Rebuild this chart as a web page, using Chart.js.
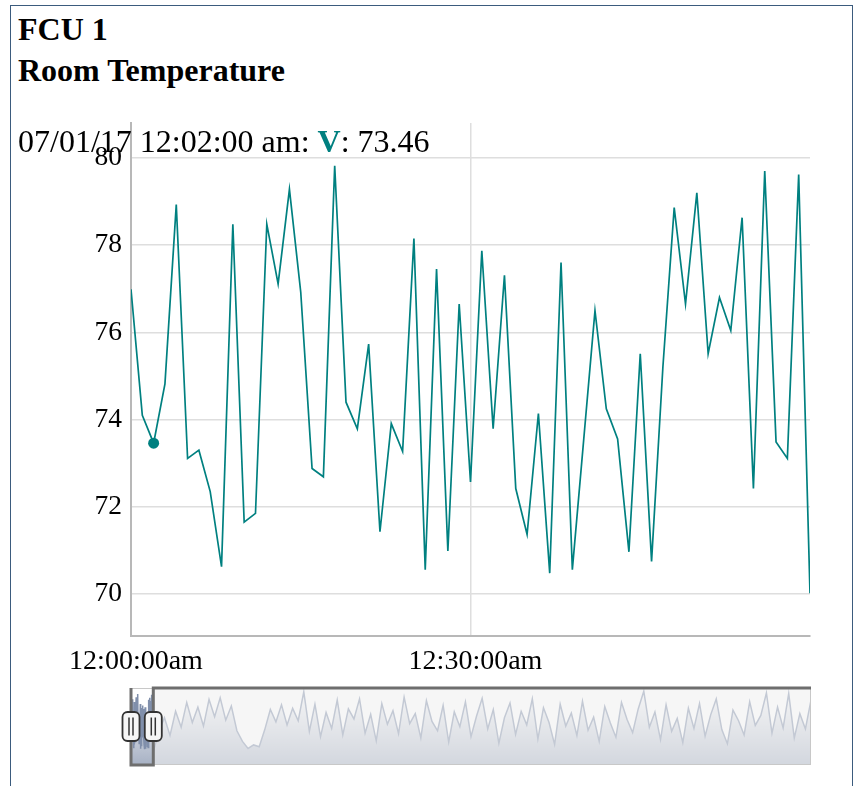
<!DOCTYPE html>
<html>
<head>
<meta charset="utf-8">
<script src="https://cdn.jsdelivr.net/npm/chart.js@4.4.1/dist/chart.umd.min.js"></script>
<style>
  body { margin: 0; background: #fff; font-family: 'Liberation Serif', 'Times New Roman', serif; }
  #page { position: relative; width: 863px; height: 786px; overflow: hidden; }
  #frame { position: absolute; left: 10px; top: 5px; width: 841px; height: 830px; border: 1.5px solid #3b5b7d; }
  .head { position: absolute; left: 18px; font-weight: bold; font-size: 32px; line-height: 32px; color: #000; white-space: nowrap; }
  #legend { position: absolute; left: 18px; top: 125px; font-size: 32px; line-height: 32px; color: #000; white-space: nowrap; z-index: 2; }
  #legend b { color: #008080; }
  #mainChart { position: absolute; left: 0; top: 0; }
  #rangeChart { position: absolute; left: 111px; top: 684px; }
</style>
</head>
<body>
<div id="page">
  <div id="frame"></div>
  <div class="head" style="top:13px">FCU 1</div>
  <div class="head" style="top:54px">Room Temperature</div>
  <canvas id="mainChart" width="863" height="690"></canvas>
  <div id="legend"></div>
  <canvas id="rangeChart" width="710" height="84"></canvas>
</div>
<script>
    const fontFamily = "'Liberation Serif', 'Times New Roman', serif";

    // one reading per minute, starting 12:00:00am
    const roomTemp = [
        76.99, 74.10, 73.46, 74.82, 78.93, 73.11, 73.30, 72.35, 70.63, 78.48,
        71.65, 71.85, 78.48, 77.11, 79.28, 76.92, 72.88, 72.69, 79.82, 74.40,
        73.79, 75.73, 71.43, 73.91, 73.27, 78.15, 70.56, 77.45, 70.99, 76.65,
        72.57, 77.87, 73.79, 77.31, 72.42, 71.37, 74.14, 70.48, 77.60, 70.56,
        73.53, 76.50, 74.25, 73.56, 70.97, 75.51, 70.75, 75.20, 78.86, 76.65,
        79.20, 75.51, 76.80, 76.04, 78.63, 72.42, 79.70, 73.49, 73.11, 79.62,
        70.02
    ];

    // rest of the day as seen in the range selector, every 15 minutes from minute 75
    const overviewTemp = [
        73.5, 75.8, 72.8, 76.9, 74.2, 78.4, 75.0, 77.6, 74.4, 78.9,
        76.0, 79.2, 75.4, 77.8, 73.6,
        71.8, 70.6, 71.2, 70.9, 73.8, 77.2,
        75.1, 78.0, 74.6, 77.4, 75.3,
        80.2,
        73.5, 78.1, 72.6, 76.7, 74.0, 78.8, 72.9, 77.3, 75.6,
        79.0, 73.2, 76.4, 71.9, 78.2, 74.7, 77.0, 73.1, 79.3, 74.8,
        76.5, 72.4, 78.7, 75.2, 73.6, 77.9, 71.7, 76.8, 74.3, 78.5,
        72.6, 76.1, 79.1, 73.9, 77.2, 71.5, 75.8, 78.3, 73.0, 76.9,
        74.6, 79.0, 72.2, 77.5, 75.0, 71.3, 78.1, 74.4, 76.6, 72.8,
        78.6, 73.7, 75.9, 71.8, 77.7, 74.9, 72.5, 78.4, 75.5, 73.3,
        77.3, 80.3,
        74.2, 76.8, 72.1, 78.0, 73.5, 75.7, 71.6, 77.4, 74.0, 78.2,
        72.7, 76.3, 79.0, 73.8, 71.4, 77.1, 75.3, 72.9, 78.5, 74.5,
        76.2, 80.0, 73.2, 77.6, 74.1, 79.9, 72.4, 76.5, 73.9, 78.8
    ];
    const overviewStart = 75;
    const overviewStep = 15;

    const xTickValues = [0, 30];
    const xTickLabels = ['12:00:00am', '12:30:00am'];
    const yTickValues = [70, 72, 74, 76, 78, 80];

    const seriesName = 'V';
    const highlightIndex = 2;
    const legendDate = '07/01/17';
    const legendTime = '12:02:00 am';

    const windowStart = 0;
    const windowEnd = 60;
    const fullEnd = 1830;

    document.getElementById('legend').innerHTML =
        legendDate + ' ' + legendTime + ': <b>' + seriesName + '</b>: ' + roomTemp[highlightIndex].toFixed(2);

    const mainPoints = roomTemp.map((v, i) => ({ x: i, y: v }));

    new Chart(document.getElementById('mainChart'), {
        type: 'line',
        data: {
            datasets: [{
                label: seriesName,
                data: mainPoints,
                borderColor: '#008080',
                borderWidth: 1.7,
                tension: 0,
                pointRadius: c => c.dataIndex === highlightIndex ? 5.5 : 0,
                pointBackgroundColor: '#008080',
                pointBorderWidth: 0
            }]
        },
        options: {
            responsive: false,
            animation: false,
            devicePixelRatio: 1,
            layout: { padding: { top: 123, right: 53, left: 0, bottom: 0 } },
            plugins: { legend: { display: false }, tooltip: { enabled: false } },
            scales: {
                x: {
                    type: 'linear',
                    min: windowStart,
                    max: windowEnd,
                    afterBuildTicks: s => { s.ticks = xTickValues.map(v => ({ value: v })); },
                    afterFit: s => { s.height = 54; },
                    grid: { color: '#dedede', lineWidth: 1.5, drawTicks: false },
                    border: { color: '#b8b8b8', width: 2 },
                    ticks: {
                        callback: (v, i) => xTickLabels[i],
                        font: { family: fontFamily, size: 28 },
                        color: '#000',
                        padding: 9,
                        labelOffset: 5,
                        maxRotation: 0,
                        autoSkip: false
                    }
                },
                y: {
                    min: 69.04,
                    max: 80.8,
                    afterBuildTicks: s => { s.ticks = yTickValues.map(v => ({ value: v })); },
                    afterFit: s => { s.width = 131; },
                    grid: { color: '#dedede', lineWidth: 1.5, drawTicks: false },
                    border: { color: '#b8b8b8', width: 2 },
                    ticks: {
                        font: { family: fontFamily, size: 27.5 },
                        color: '#000',
                        padding: 9
                    }
                }
            }
        }
    });

    // range selector
    const overviewPoints = mainPoints.concat(
        overviewTemp.map((v, i) => ({ x: overviewStart + i * overviewStep, y: v }))
    );

    function drawHandle(ctx, x, y) {
        ctx.beginPath();
        ctx.roundRect(x - 8.5, y - 14.5, 17, 29, 5);
        ctx.fillStyle = '#f6f6f6';
        ctx.fill();
        ctx.strokeStyle = '#333';
        ctx.lineWidth = 1.8;
        ctx.stroke();
        ctx.beginPath();
        ctx.moveTo(x - 2, y - 9); ctx.lineTo(x - 2, y + 9);
        ctx.moveTo(x + 2, y - 9); ctx.lineTo(x + 2, y + 9);
        ctx.lineWidth = 1.5;
        ctx.stroke();
    }

    const selectorPlugin = {
        id: 'selector',
        beforeDatasetsDraw(chart) {
            const a = chart.chartArea;
            chart.ctx.save();
            chart.ctx.fillStyle = '#ffffff';
            chart.ctx.fillRect(a.left, a.top, a.width, a.height);
            chart.ctx.restore();
        },
        afterDatasetsDraw(chart) {
            const ctx = chart.ctx;
            const a = chart.chartArea;
            const x0 = chart.scales.x.getPixelForValue(windowStart);
            const x1 = chart.scales.x.getPixelForValue(windowEnd);
            ctx.save();
            ctx.fillStyle = 'rgba(240,240,240,0.6)';
            if (x0 > a.left) ctx.fillRect(a.left, a.top, x0 - a.left, a.height);
            ctx.fillRect(x1, a.top, a.right - x1, a.height);
            ctx.strokeStyle = '#c8c8c8';
            ctx.lineWidth = 1;
            ctx.strokeRect(a.left + 0.5, a.top + 0.5, a.width - 1, a.height - 1);
            ctx.strokeStyle = '#6e6e6e';
            ctx.lineWidth = 3;
            ctx.beginPath();
            ctx.moveTo(a.left, a.top);
            ctx.lineTo(x0, a.top);
            ctx.lineTo(x0, a.bottom);
            ctx.lineTo(x1, a.bottom);
            ctx.lineTo(x1, a.top);
            ctx.lineTo(a.right, a.top);
            ctx.stroke();
            const mid = (a.top + a.bottom) / 2;
            drawHandle(ctx, x0, mid);
            drawHandle(ctx, x1, mid);
            ctx.restore();
        }
    };

    new Chart(document.getElementById('rangeChart'), {
        type: 'line',
        data: {
            datasets: [{
                data: overviewPoints,
                borderColor: '#808FAB',
                borderWidth: 1.5,
                pointRadius: 0,
                tension: 0,
                fill: 'start',
                backgroundColor: c => {
                    const a = c.chart.chartArea;
                    if (!a) return '#A7B1C4';
                    const g = c.chart.ctx.createLinearGradient(0, a.top, 0, a.bottom);
                    g.addColorStop(0, '#ffffff');
                    g.addColorStop(1, '#A7B1C4');
                    return g;
                }
            }]
        },
        options: {
            responsive: false,
            animation: false,
            devicePixelRatio: 1,
            layout: { padding: { top: 4, right: 10, left: 20, bottom: 3 } },
            plugins: { legend: { display: false }, tooltip: { enabled: false } },
            scales: {
                x: { type: 'linear', min: 0, max: fullEnd, display: false },
                y: { min: 67.8, max: 80.85, display: false }
            }
        },
        plugins: [selectorPlugin]
    });
</script>
</body>
</html>
